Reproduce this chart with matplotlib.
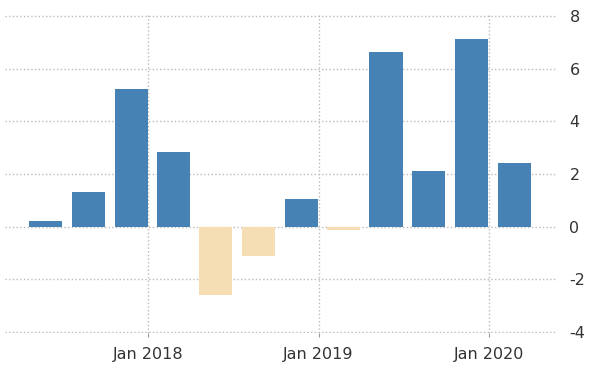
import numpy as np
import pandas as pd
import matplotlib
matplotlib.use('Agg')
import matplotlib.pyplot as plt

plt.rcParams['axes.unicode_minus'] = False

# quarterly values, quarter-end dates
quarters = pd.date_range('2017-06-30', periods=12, freq='QE')
values = [0.22, 1.33, 5.22, 2.83, -2.59, -1.10, 1.04, -0.13, 6.65, 2.12, 7.13, 2.41]
tick_dates = pd.to_datetime(['2018-01-01', '2019-01-01', '2020-01-01'])
tick_labels = ['Jan 2018', 'Jan 2019', 'Jan 2020']
yticks = [-4, -2, 0, 2, 4, 6, 8]

colors = ['#4682b4' if v >= 0 else '#f5deb3' for v in values]

fig = plt.figure(figsize=(6.02, 3.68), dpi=100)
ax = fig.add_axes([5/602, 35/368, 552/602, 318/368])

ax.bar(quarters, values, width=-71, align='edge', color=colors, zorder=3)

ax.set_ylim(-4.04, 8.04)
ax.set_yticks(yticks)
ax.set_xlim(pd.Timestamp('2017-02-28'), pd.Timestamp('2020-05-26'))
ax.set_xticks(tick_dates)
ax.set_xticklabels(tick_labels)

ax.yaxis.tick_right()
ax.grid(True, color='#bbbbbb', linestyle=':', linewidth=1, zorder=0)
for s in ax.spines.values():
    s.set_visible(False)
ax.tick_params(axis='y', length=0, pad=9, labelsize=11.5, labelcolor='#333333')
ax.tick_params(axis='x', length=3, color='#999999', pad=7, labelsize=11.5, labelcolor='#333333')

plt.savefig('out.png', dpi=100)
